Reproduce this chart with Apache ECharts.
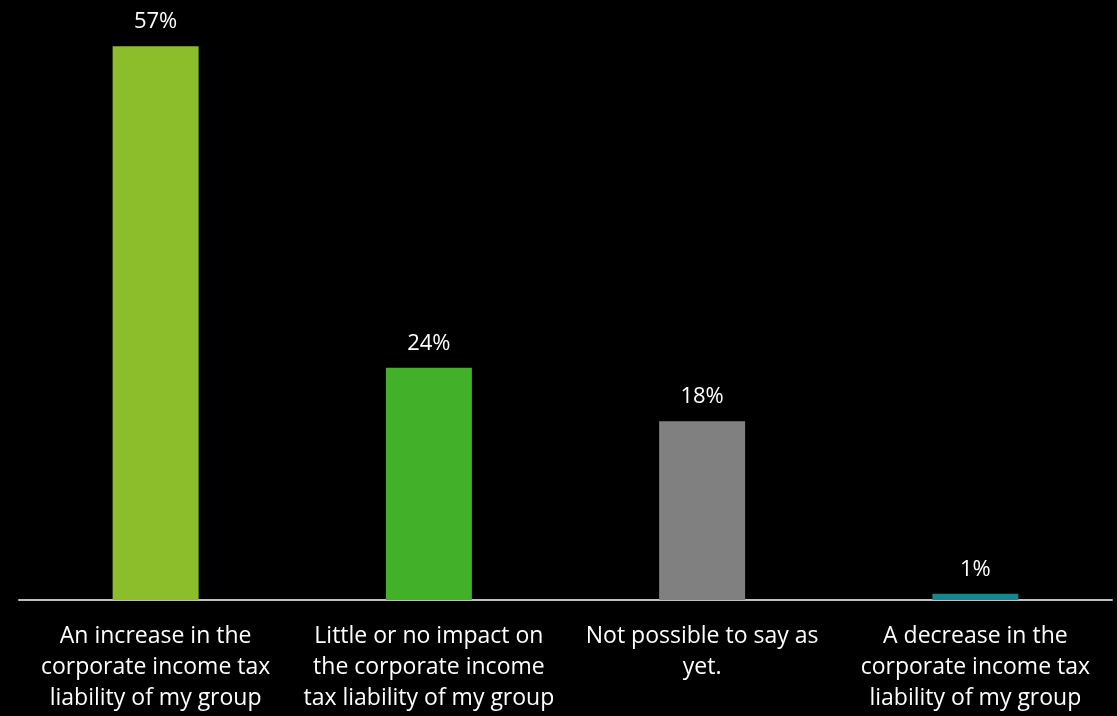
<!DOCTYPE html>
<html><head><meta charset="utf-8">
<script src="https://cdn.jsdelivr.net/npm/echarts@6/dist/echarts.min.js"></script>
<style>html,body{margin:0;padding:0;background:#000;}#c{width:1117px;height:716px;}</style>
</head><body><div id="c"></div>
<script>
const categories = [
  "An increase in the\ncorporate income tax\nliability of my group",
  "Little or no impact on\nthe corporate income\ntax liability of my group",
  "Not possible to say as\nyet.",
  "A decrease in the\ncorporate income tax\nliability of my group"
];
const values = [57, 23.9, 18.4, 0.65];
const colors = ["#8CBE2B", "#43B02A", "#808080", "#13888F"];

const chart = echarts.init(document.getElementById('c'));
chart.setOption({
  backgroundColor: '#000',
  animation: false,
  grid: {left: 19, right: 5, top: 17, bottom: 116},
  xAxis: {
    type: 'category', data: categories,
    axisLine: {lineStyle: {color: '#BFBFBF', width: 2}},
    axisTick: {show: false},
    axisLabel: {color: '#fff', fontSize: 23, fontFamily: 'Open Sans', lineHeight: 31, margin: 21, interval: 0}
  },
  yAxis: {type: 'value', min: 0, max: 60, show: false, splitLine: {show: false}},
  series: [{
    type: 'bar', barWidth: 86,
    data: values.map((v, i) => ({value: v, itemStyle: {color: colors[i]}})),
    label: {show: true, position: 'top', distance: 13, color: '#fff', fontSize: 22, fontFamily: 'Open Sans',
      formatter: p => Math.round(p.value) + '%'}
  }]
});
</script></body></html>
